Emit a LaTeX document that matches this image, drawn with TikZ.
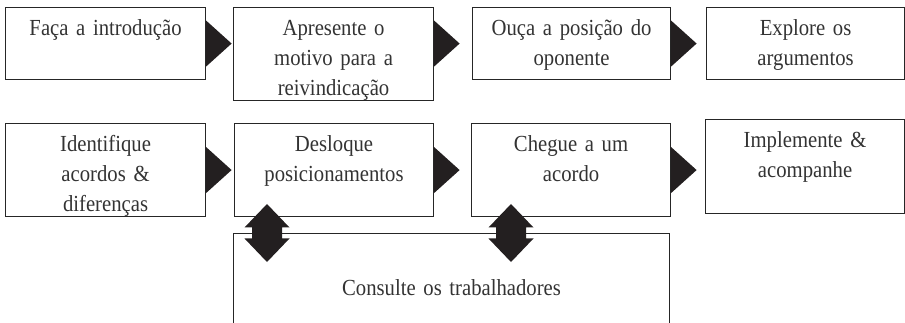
\documentclass[tikz,border=0pt]{standalone}
\usepackage{fontspec}
\setmainfont{Liberation Serif}[FakeStretch=0.9]
\usepackage{tikz}
\usetikzlibrary{calc}

\definecolor{inkgray}{RGB}{51,51,51}
\definecolor{headblack}{RGB}{35,31,32}

\tikzset{
  stepbox/.style={draw=black!85, line width=1.1pt, anchor=north west,
    inner sep=0pt, align=center, text height=28pt, text=inkgray,
    font=\fontsize{23}{30}\selectfont},
  headfill/.style={fill=headblack}
}

% head pointing right, #1 is the middle of its left side
\newcommand{\rhead}[1]{\fill[headfill] (#1) ++(0,-23) -- ++(25.5,23) -- ++(-25.5,23) -- cycle;}
% head pointing up and down, #1 is its middle
\newcommand{\udhead}[1]{\fill[headfill] (#1) ++(0,-29) -- ++(22.5,23.5) -- ++(-7.5,0)
  -- ++(0,11) -- ++(7.5,0) -- ++(-22.5,23.5) -- ++(-22.5,-23.5) -- ++(7.5,0)
  -- ++(0,-11) -- ++(-7.5,0) -- cycle;}

\begin{document}
\begin{tikzpicture}[x=1pt, y=-1pt]
    \clip (0,0) rectangle (905,323);

    % first row
    \node[stepbox, text width=200pt, text depth=44pt] (intro) at (5,7) {Faça a introdução};
    \node[stepbox, text width=200pt, text depth=65pt] (motivo) at (233,7) {Apresente o\\motivo para a\\reivindicação};
    \node[stepbox, text width=198pt, text depth=44pt] (ouca) at (472,7) {Ouça a posição do\\oponente};
    \node[stepbox, text width=198pt, text depth=44pt] (explore) at (706,7) {Explore os\\argumentos};

    % second row
    \node[stepbox, text width=200pt, text depth=65pt] (acordos) at (5,123) {Identifique\\acordos \&\\diferenças};
    \node[stepbox, text width=199pt, text depth=65pt] (desloque) at (234,123) {Desloque\\posicionamentos};
    \node[stepbox, text width=199pt, text depth=65pt] (chegue) at (471,123) {Chegue a um\\acordo};
    \node[stepbox, text width=199pt, text depth=66pt] (implemente) at (705,119) {Implemente \&\\acompanhe};

    % bottom box, runs off the page
    \node[stepbox, text width=436pt, text height=62pt, text depth=50pt] (consulte) at (233,233) {Consulte os trabalhadores};

    % heads between the steps
    \rhead{intro.east}
    \rhead{motivo.east |- ouca.west}
    \rhead{ouca.east}
    \rhead{acordos.east}
    \rhead{desloque.east}
    \rhead{chegue.east}

    % up and down to the bottom box
    \udhead{$(consulte.north west)+(34,0)$}
    \udhead{$(consulte.north west)+(278,0)$}

\end{tikzpicture}
\end{document}
